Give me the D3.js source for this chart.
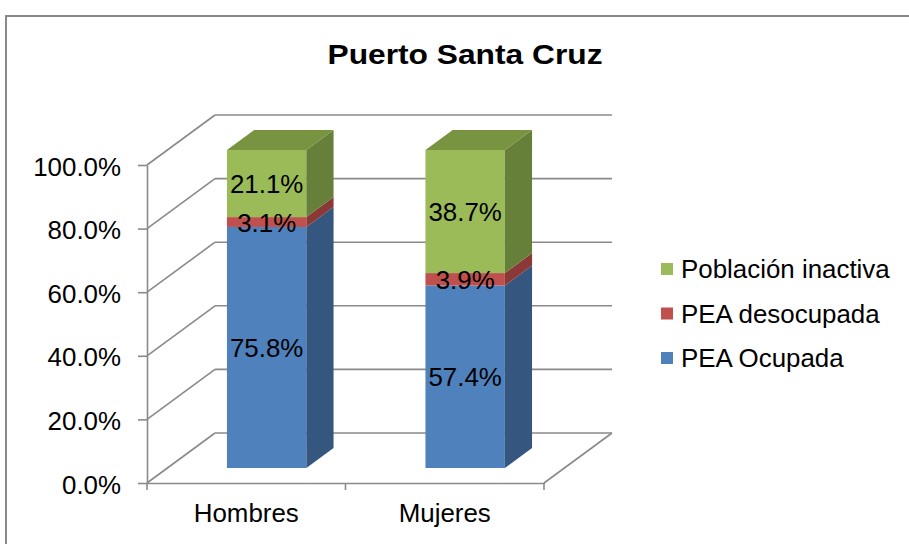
<!DOCTYPE html>
<html>
<head>
<meta charset="utf-8">
<script src="https://cdn.jsdelivr.net/npm/d3@7"></script>
<style>
  html, body { margin: 0; padding: 0; background: #ffffff; }
  svg { display: block; font-family: "Liberation Sans", Arial, sans-serif; }
</style>
</head>
<body>
<svg id="chart" width="909" height="544"></svg>
<script>
// Population by activity status, Puerto Santa Cruz (percent of each sex)
const categories = ["Hombres", "Mujeres"];
const seriesNames = ["PEA Ocupada", "PEA desocupada", "Población inactiva"];
const ocupada = [75.8, 57.4];
const desocupada = [3.1, 3.9];
const inactiva = [21.1, 38.7];
const yTicks = [0, 20, 40, 60, 80, 100];
const title = "Puerto Santa Cruz";

const frontColors = ["#4f81bd", "#c0504d", "#9bbb59"];
const sideColors = ["#34567f", "#8b3936", "#66803a"];
const topColors = ["#40679a", "#9e403d", "#789440"];

const svg = d3.select("#chart");
const W = 909, H = 544;
const fontSize = 25.9;

// outer frame of the chart area
svg.append("rect")
  .attr("x", 6).attr("y", 16).attr("width", W + 20).attr("height", H + 20)
  .attr("fill", "#ffffff").attr("stroke", "#898989").attr("stroke-width", 2);

// front plane scales
const x = d3.scaleBand().domain(categories).range([147, 544])
  .paddingInner(0.6).paddingOuter(0.3);
const y = d3.scaleLinear().domain([0, 100]).range([483, 165]);

// depth of the plot box (oblique projection)
const depth = { dx: 68, dy: -50 };
const barFront = 0.3, barBack = 0.7;

const gridColor = "#8a8a8a";
const grid = svg.append("g").attr("fill", "none")
  .attr("stroke", gridColor).attr("stroke-width", 1.6);

// back wall gridlines
grid.selectAll("line.back").data(yTicks).join("line")
  .attr("class", "back")
  .attr("x1", x.range()[0] + depth.dx).attr("x2", x.range()[1] + depth.dx)
  .attr("y1", d => y(d) + depth.dy).attr("y2", d => y(d) + depth.dy);

// side wall gridlines
grid.selectAll("line.side").data(yTicks).join("line")
  .attr("class", "side")
  .attr("x1", x.range()[0]).attr("x2", x.range()[0] + depth.dx)
  .attr("y1", d => y(d)).attr("y2", d => y(d) + depth.dy);

// floor right edge
grid.append("line")
  .attr("x1", x.range()[1]).attr("y1", y(0))
  .attr("x2", x.range()[1] + depth.dx).attr("y2", y(0) + depth.dy);

// stacked data
const rows = categories.map((c, i) => ({
  cat: c,
  "PEA Ocupada": ocupada[i],
  "PEA desocupada": desocupada[i],
  "Población inactiva": inactiva[i]
}));
const stacked = d3.stack().keys(seriesNames)(rows);

const bw = x.bandwidth();
const fdx = depth.dx * barFront, fdy = depth.dy * barFront;
const bdx = depth.dx * barBack, bdy = depth.dy * barBack;
const sdx = bdx - fdx, sdy = bdy - fdy;

const bars = svg.append("g");
stacked.forEach((layer, si) => {
  const isTop = si === stacked.length - 1;
  layer.forEach(d => {
    const x0 = x(d.data.cat) + fdx;
    const x1 = x0 + bw;
    const yt = y(d[1]) + fdy;
    const yb = y(d[0]) + fdy;
    // front face
    bars.append("rect")
      .attr("x", x0).attr("y", yt).attr("width", bw).attr("height", yb - yt)
      .attr("fill", frontColors[si]);
    // right side face
    bars.append("path")
      .attr("d", `M${x1},${yt}L${x1 + sdx},${yt + sdy}L${x1 + sdx},${yb + sdy}L${x1},${yb}Z`)
      .attr("fill", sideColors[si]);
    if (isTop) {
      bars.append("path")
        .attr("d", `M${x0},${yt}L${x0 + sdx},${yt + sdy}L${x1 + sdx},${yt + sdy}L${x1},${yt}Z`)
        .attr("fill", topColors[si]);
    }
  });
});

// value labels centred on each front face
const fmt = d3.format(".1f");
const labels = svg.append("g").attr("font-size", fontSize).attr("fill", "#000")
  .attr("text-anchor", "middle");
stacked.forEach(layer => {
  layer.forEach(d => {
    const cx = x(d.data.cat) + fdx + bw / 2;
    const cy = (y(d[0]) + y(d[1])) / 2 + fdy;
    labels.append("text")
      .attr("x", cx).attr("y", cy + 9.5)
      .text(fmt(d[1] - d[0]) + "%");
  });
});

// value axis
const yAxis = svg.append("g")
  .attr("transform", `translate(${x.range()[0]},0)`)
  .call(d3.axisLeft(y).tickValues(yTicks).tickSize(9).tickSizeOuter(0)
    .tickPadding(17).tickFormat(d => fmt(d) + "%"));
yAxis.select(".domain").attr("stroke", gridColor).attr("stroke-width", 1.6);
yAxis.selectAll(".tick line").attr("stroke", gridColor).attr("stroke-width", 1.6);
yAxis.selectAll(".tick text")
  .attr("font-size", fontSize).attr("font-family", "Liberation Sans, Arial, sans-serif")
  .attr("fill", "#000").attr("dy", null).attr("y", 10);

// category axis
const xAxis = svg.append("g")
  .attr("transform", `translate(0,${y(0)})`)
  .call(d3.axisBottom(x).tickSize(0).tickPadding(39));
xAxis.select(".domain").attr("stroke", gridColor).attr("stroke-width", 1.6);
xAxis.selectAll(".tick text")
  .attr("font-size", fontSize).attr("font-family", "Liberation Sans, Arial, sans-serif")
  .attr("fill", "#000").attr("dy", null).attr("y", 39);
// boundary tick marks between categories
const bounds = d3.range(categories.length + 1).map(i => x.range()[0] + i * x.step());
xAxis.selectAll("line.bound").data(bounds).join("line")
  .attr("class", "bound")
  .attr("x1", d => d).attr("x2", d => d).attr("y1", 0).attr("y2", 7)
  .attr("stroke", gridColor).attr("stroke-width", 1.6);

// title
svg.append("text")
  .attr("x", 465).attr("y", 64).attr("text-anchor", "middle")
  .attr("font-size", 28).attr("font-weight", "bold").attr("fill", "#000")
  .attr("textLength", 275).attr("lengthAdjust", "spacingAndGlyphs")
  .text(title);

// legend, listed top series first
const legend = svg.append("g").attr("transform", "translate(661,269)");
const legendItems = seriesNames.map((n, i) => ({ name: n, color: frontColors[i] })).reverse();
const li = legend.selectAll("g").data(legendItems).join("g")
  .attr("transform", (d, i) => `translate(0,${i * 44.5})`);
li.append("rect").attr("x", 0).attr("y", -6).attr("width", 12).attr("height", 12)
  .attr("fill", d => d.color);
li.append("text").attr("x", 20).attr("y", 9).attr("font-size", fontSize).attr("fill", "#000")
  .text(d => d.name);
</script>
</body>
</html>
